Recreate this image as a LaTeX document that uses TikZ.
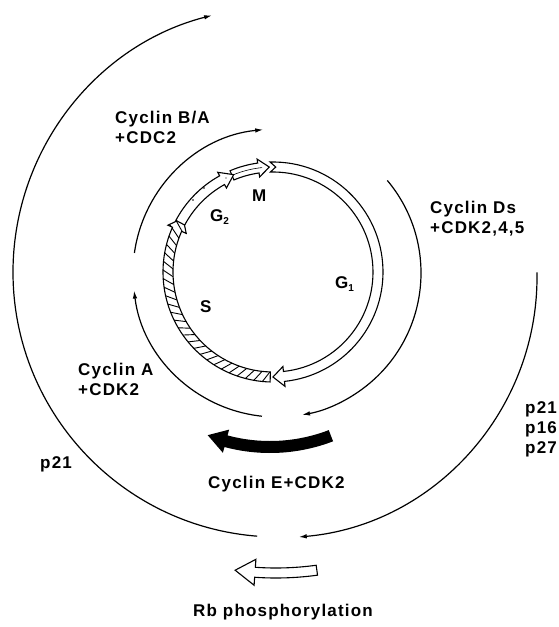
\documentclass[tikz,border=0pt]{standalone}
\usepackage{fontspec}
\setmainfont{Liberation Sans}[LetterSpace=7]
\usetikzlibrary{arrows.meta}

% curved band arrow around a centre, running clockwise from the tail to the tip
% #1 style, #2 #3 centre, #4 mid radius, #5 half band width, #6 half head width,
% #7 tail angle, #8 head base angle, #9 tip angle
\def\bandtail{}
\newcommand\bandarrow[9]{%
  \pgfmathsetmacro\bandRo{#4+#5}\pgfmathsetmacro\bandRi{#4-#5}%
  \pgfmathsetmacro\bandHo{#4+#6}\pgfmathsetmacro\bandHi{#4-#6}%
  \path[#1,shift={(#2,#3)}]
    (#7:\bandRo) arc[start angle=#7, end angle=#8, radius=\bandRo]
    -- (#8:\bandHo) -- (#9:#4) -- (#8:\bandHi) -- (#8:\bandRi)
    arc[start angle=#8, end angle=#7, radius=\bandRi] \bandtail -- cycle;}

\tikzset{
  lbl/.style={font=\fontsize{17}{20}\selectfont\bfseries, inner sep=0pt, anchor=base west},
  thinarc/.style={line width=1.2pt, -{Latex[length=8pt,width=4.5pt]}},
  ring/.style={draw=black, line width=1.1pt, fill=white, line join=miter},
}

\begin{document}
\begin{tikzpicture}[x=1pt,y=1pt]
\useasboundingbox (0,0) rectangle (558,-627);

% ---- inner cycle: S (hatched), G1, M, G2 ----
\begin{scope}
  \bandarrow{clip}{273}{-272}{105}{5}{10}{268.5}{156}{149}
  \foreach \t in {146,150.5,...,284}
    \draw[line width=0.9pt,shift={(273,-272)}] (\t:92) -- (\t-10:118);
\end{scope}
\bandarrow{draw=black,line width=1.1pt,line join=miter}{273}{-272}{105}{5}{10}{268.5}{156}{149}

\def\bandtail{-- (88.5:105)}
\bandarrow{ring}{273}{-272}{105}{5}{10}{91.5}{-84}{-90}
\def\bandtail{}

\bandarrow{ring}{273}{-272}{105}{5}{9}{113}{98}{92}
\draw[line width=0.6pt,shift={(273,-272)}] (112:105) arc[start angle=112, end angle=96, radius=105];

\bandarrow{ring}{273}{-272}{105}{5}{9}{152}{119}{112}
\fill (204,-188) circle (0.8) (193,-200) circle (0.8) (226,-178) circle (0.7);

% ---- phase labels ----
\node[lbl] (phM) at (252,-201) {M};
\node[lbl] (phG2) at (210,-221) {G\raisebox{-3pt}{\fontsize{10}{10}\selectfont 2}};
\node[lbl] (phS) at (200,-312) {S};
\node[lbl] (phG1) at (335,-288) {G\raisebox{-3pt}{\fontsize{10}{10}\selectfont 1}};

% ---- cyclin / CDK arcs ----
\draw[thinarc,shift={(277,-273)}] (172:144) arc[start angle=172, end angle=95.5, radius=144];
\draw[thinarc,shift={(277,-273)}] (264:144) arc[start angle=264, end angle=187, radius=144];
\draw[thinarc,shift={(277,-273)}] (40:144) arc[start angle=40, end angle=-80, radius=144];

% ---- inhibitor arcs ----
\draw[thinarc,shift={(278,-272)}] (265.5:265) arc[start angle=265.5, end angle=104.4, radius=265];
\draw[thinarc,shift={(276,-277)}] (1:261) arc[start angle=1, end angle=-85, radius=261];

% ---- Cyclin E + CDK2 (solid) and Rb phosphorylation (open) ----
\bandarrow{fill=black}{270}{-277}{170}{6}{12}{-69}{-105}{-111.5}
\bandarrow{ring}{276}{-272}{301}{5}{13}{-82.2}{-94}{-97.8}

% ---- labels ----
\node[lbl] (ba1) at (115,-123) {Cyclin B/A};
\node[lbl] (ba2) at (115,-143) {+CDC2};
\node[lbl] (ds1) at (430,-213) {Cyclin Ds};
\node[lbl] (ds2) at (430,-233) {+CDK2,4,5};
\node[lbl] (ca1) at (78,-375) {Cyclin A};
\node[lbl] (ca2) at (78,-395) {+CDK2};
\node[lbl] (pl) at (40,-468) {p21};
\node[lbl] (pr1) at (525,-413) {p21};
\node[lbl] (pr2) at (525,-433) {p16};
\node[lbl] (pr3) at (525,-453) {p27};
\node[lbl] (ce) at (208,-488) {Cyclin E+CDK2};
\node[lbl] (rb) at (193,-616) {Rb phosphorylation};
\end{tikzpicture}
\end{document}
